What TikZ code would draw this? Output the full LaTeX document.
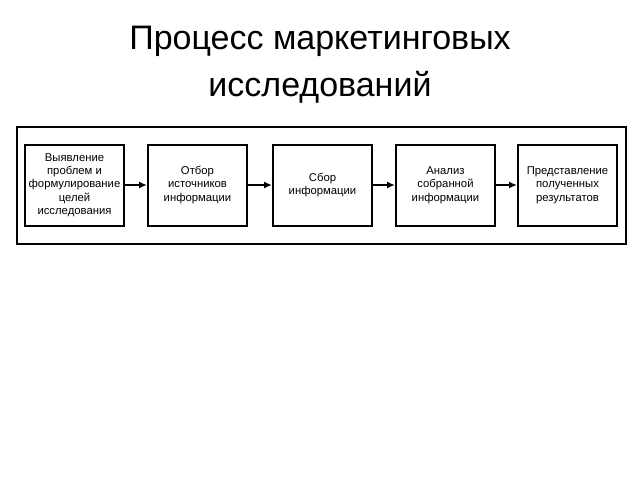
\documentclass[tikz,border=0pt]{standalone}
\usepackage{fontspec}
\setmainfont{Liberation Sans}
\usetikzlibrary{arrows.meta}
\begin{document}
\begin{tikzpicture}[x=1pt,y=-1pt,
  stepbox/.style={draw,line width=2pt,minimum width=99pt,minimum height=81pt,inner sep=1pt,align=center,font=\fontsize{11.3}{13.3}\selectfont},
  conn/.style={line width=2pt,-{Latex[length=8pt,width=7pt]}}]
\useasboundingbox (0,0) rectangle (640,480);
\node[font=\fontsize{34}{47}\selectfont,align=center] (title) at (320,64.3) {Процесс маркетинговых\\исследований};
\node[draw,line width=2pt,minimum width=609pt,minimum height=117pt,inner sep=0pt] (frame) at (321.5,185) {};
\node[stepbox] (b1) at (74.5,185) {Выявление\\проблем и\\формулирование\\целей\\исследования};
\node[stepbox] (b2) at (197.5,185) {Отбор\\источников\\информации};
\node[stepbox] (b3) at (322.5,185) {Сбор\\информации};
\node[stepbox] (b4) at (445.5,185) {Анализ\\собранной\\информации};
\node[stepbox] (b5) at (567.5,185) {Представление\\полученных\\результатов};
\draw[conn] (b1) -- (b2);
\draw[conn] (b2) -- (b3);
\draw[conn] (b3) -- (b4);
\draw[conn] (b4) -- (b5);
\end{tikzpicture}
\end{document}
